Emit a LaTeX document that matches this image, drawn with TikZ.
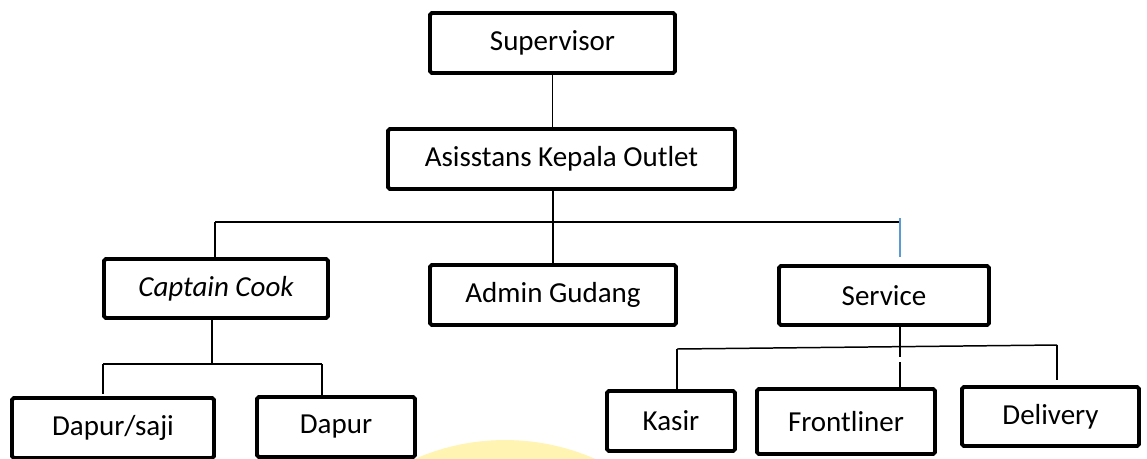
\documentclass[tikz,border=0pt]{standalone}
\usepackage{fontspec}
\setmainfont{Carlito}
\definecolor{lineblue}{RGB}{91,155,213}
\definecolor{markyellow}{RGB}{255,244,178}
\tikzset{
  box/.style={draw,line width=2.2pt,rounded corners=1pt,fill=white,inner sep=0pt,
    minimum height=1.2cm,font=\fontsize{16.5}{20}\selectfont},
  link/.style={line width=0.85pt},
  bus/.style={line width=1.1pt},
}
\begin{document}
\begin{tikzpicture}[x=0.02cm,y=-0.02cm]
	\fill[white](0,0)rectangle(1147,458);
	\useasboundingbox(0,0)rectangle(1147,458);
	\fill[markyellow](505,664)circle(4.48cm);
	% boxes
	\node[box,minimum width=4.9cm](sup)at(552.5,43){Supervisor};
	\node[box,minimum width=6.94cm](akl)at(561.5,159){Asisstans Kepala Outlet};
	\node[box,minimum width=4.48cm,minimum height=1.18cm](cc)at(216,288.5){\itshape Captain Cook};
	\node[box,minimum width=4.92cm](ag)at(553,295){Admin Gudang};
	\node[box,minimum width=4.2cm,minimum height=1.18cm](srv)at(884,295.5){Service};
	\node[box,minimum width=4.04cm](ds)at(113,428){Dapur/saji};
	\node[box,minimum width=3.16cm](dp)at(336,427){Dapur};
	\node[box,minimum width=2.56cm](ks)at(671,421){Kasir};
	\node[box,minimum width=3.56cm,minimum height=1.3cm](fl)at(846,421.5){Frontliner};
	\node[box,minimum width=3.54cm,minimum height=1.18cm](dl)at(1050.5,416.5){Delivery};
	% connectors
	\coordinate(busL)at(215,222);
	\coordinate(busR)at(900,222);
	\coordinate(blueTop)at(900,218);
	\coordinate(blueEnd)at(900,257);
	\draw[link](sup.south)--(sup.south|-akl.north);
	\draw[link](ag.north)--(ag.north|-akl.south);
	\draw[bus](busL)--(busR);
	\draw[link](busL)--(busL|-cc.north);
	\draw[lineblue,line width=0.6pt](blueTop)--(blueEnd);
	% captain cook
	\coordinate(ccBus)at(212,364);
	\coordinate(dsUp)at(103,364);
	\coordinate(dpUp)at(322,364);
	\draw[link](cc.south-|ccBus)--(ccBus);
	\draw[link](dsUp)--(dpUp);
	\draw[link,shorten >=0.05cm](dsUp)--(dsUp|-ds.north);
	\draw[link](dpUp)--(dpUp|-dp.north);
	% service
	\coordinate(ksUp)at(677,349);
	\coordinate(dlUp)at(1057,345);
	\draw[link](ksUp)--(dlUp);
	\draw[link](ksUp)--(ksUp|-ks.north);
	\draw[link,shorten >=0.1cm](dlUp)--(dlUp|-dl.north);
	\draw[link](srv.south-|busR)--(900,357)(900,362)--(busR|-fl.north);
\end{tikzpicture}
\end{document}
